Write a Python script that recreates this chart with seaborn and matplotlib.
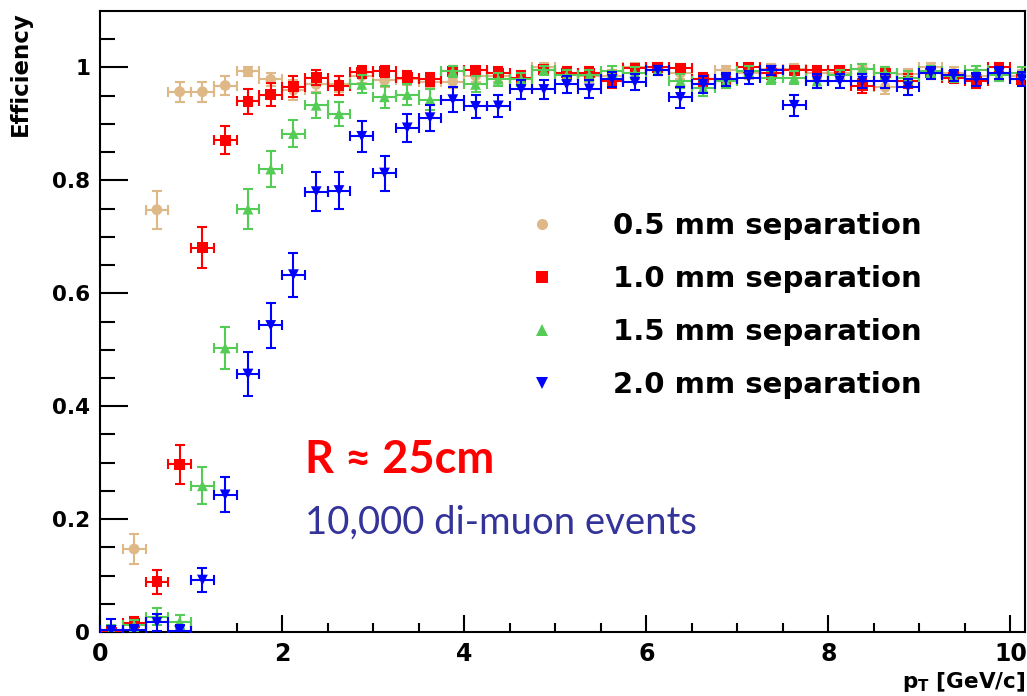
import numpy as np
import pandas as pd
import matplotlib
matplotlib.use("Agg")
import matplotlib.pyplot as plt
from matplotlib.lines import Line2D
import seaborn as sns

# ---------------- data ----------------
bin_half_width = 0.125
pt = [0.125, 0.375, 0.625, 0.875, 1.125, 1.375, 1.625, 1.875, 2.125, 2.375,
      2.625, 2.875, 3.125, 3.375, 3.625, 3.875, 4.125, 4.375, 4.625, 4.875,
      5.125, 5.375, 5.625, 5.875, 6.125, 6.375, 6.625, 6.875, 7.125, 7.375,
      7.625, 7.875, 8.125, 8.375, 8.625, 8.875, 9.125, 9.375, 9.625, 9.875,
      10.125]

eff_05 = [0.000, 0.147, 0.748, 0.957, 0.957, 0.968, 0.993, 0.979, 0.960, 0.970,
          0.970, 0.985, 0.977, 0.980, 0.975, 0.975, 0.985, 0.985, 0.980, 1.000,
          0.990, 0.985, 0.985, 1.000, 0.995, 0.990, 0.980, 0.995, 0.990, 0.998,
          0.998, 0.990, 0.990, 0.998, 0.965, 0.988, 1.000, 0.990, 0.985, 0.990,
          0.985]
err_05 = [0.010, 0.027, 0.034, 0.018, 0.018, 0.016, 0.008, 0.012, 0.018, 0.014,
          0.014, 0.012, 0.012, 0.011, 0.011, 0.011, 0.010, 0.010, 0.010, 0.008,
          0.010, 0.010, 0.010, 0.008, 0.008, 0.010, 0.010, 0.008, 0.010, 0.008,
          0.008, 0.010, 0.010, 0.008, 0.012, 0.010, 0.008, 0.010, 0.010, 0.010,
          0.010]

eff_10 = [0.000, 0.016, 0.089, 0.297, 0.681, 0.871, 0.940, 0.952, 0.966, 0.982,
          0.968, 0.992, 0.993, 0.982, 0.979, 0.993, 0.995, 0.990, 0.982, 0.996,
          0.990, 0.990, 0.976, 0.999, 1.000, 0.999, 0.979, 0.976, 1.000, 0.990,
          0.995, 0.995, 0.995, 0.967, 0.990, 0.976, 0.990, 0.982, 0.976, 1.000,
          0.979]
err_10 = [0.010, 0.010, 0.021, 0.035, 0.037, 0.025, 0.022, 0.020, 0.018, 0.013,
          0.016, 0.010, 0.010, 0.012, 0.012, 0.010, 0.008, 0.010, 0.012, 0.008,
          0.010, 0.010, 0.012, 0.008, 0.008, 0.008, 0.012, 0.012, 0.008, 0.010,
          0.008, 0.008, 0.008, 0.013, 0.010, 0.012, 0.010, 0.010, 0.012, 0.008,
          0.010]

eff_15 = [0.003, 0.012, 0.027, 0.018, 0.259, 0.503, 0.749, 0.820, 0.883, 0.933,
          0.918, 0.970, 0.948, 0.952, 0.943, 0.993, 0.970, 0.979, 0.979, 0.995,
          0.986, 0.986, 0.993, 0.990, 0.995, 0.976, 0.964, 0.976, 0.993, 0.982,
          0.982, 0.976, 0.986, 0.998, 0.990, 0.982, 0.993, 0.985, 0.995, 0.986,
          0.990]
err_15 = [0.010, 0.010, 0.015, 0.012, 0.033, 0.037, 0.035, 0.032, 0.024, 0.022,
          0.021, 0.016, 0.019, 0.018, 0.018, 0.010, 0.014, 0.012, 0.012, 0.008,
          0.010, 0.010, 0.010, 0.010, 0.008, 0.012, 0.014, 0.012, 0.010, 0.012,
          0.012, 0.012, 0.010, 0.008, 0.010, 0.012, 0.010, 0.010, 0.008, 0.010,
          0.010]

eff_20 = [0.003, 0.003, 0.017, 0.002, 0.092, 0.243, 0.457, 0.543, 0.633, 0.780,
          0.782, 0.878, 0.813, 0.893, 0.911, 0.943, 0.931, 0.932, 0.961, 0.961,
          0.970, 0.962, 0.979, 0.974, 0.995, 0.947, 0.970, 0.979, 0.982, 0.995,
          0.933, 0.976, 0.976, 0.976, 0.976, 0.966, 0.990, 0.986, 0.979, 0.990,
          0.980]
err_20 = [0.020, 0.010, 0.015, 0.010, 0.022, 0.031, 0.039, 0.040, 0.039, 0.034,
          0.033, 0.027, 0.031, 0.025, 0.023, 0.022, 0.021, 0.020, 0.016, 0.016,
          0.015, 0.016, 0.013, 0.014, 0.008, 0.019, 0.015, 0.012, 0.012, 0.008,
          0.019, 0.012, 0.012, 0.012, 0.012, 0.014, 0.010, 0.010, 0.012, 0.010,
          0.012]

labels = ["0.5 mm separation", "1.0 mm separation",
          "1.5 mm separation", "2.0 mm separation"]
colors = ["#DEB887", "#FF0000", "#55CC55", "#0000FF"]
markers = ["o", "s", "^", "v"]
yticks = [0, 0.2, 0.4, 0.6, 0.8, 1.0]
ytick_labels = ["0", "0.2", "0.4", "0.6", "0.8", "1"]
xticks = [0, 2, 4, 6, 8, 10]
xtick_labels = ["0", "2", "4", "6", "8", "10"]

series = [eff_05, eff_10, eff_15, eff_20]
errors = [err_05, err_10, err_15, err_20]

# ---------------- plot ----------------
sns.set_theme(style="ticks")
plt.rcParams["font.family"] = ["DejaVu Sans"]
plt.rcParams["mathtext.default"] = "regular"
plt.rcParams["text.color"] = "black"
plt.rcParams["axes.labelcolor"] = "black"
plt.rcParams["xtick.color"] = "black"
plt.rcParams["ytick.color"] = "black"

fig = plt.figure(figsize=(10.27, 6.96), dpi=100)
ax = fig.add_axes([100 / 1027, 1 - 632 / 696, 925 / 1027, 621 / 696])

for i, (vals, errs) in enumerate(zip(series, errors)):
    ax.errorbar(pt, vals, xerr=bin_half_width, yerr=errs, fmt="none",
                ecolor=colors[i], elinewidth=1.5, capsize=3.5, capthick=1.5,
                zorder=2 + i)
    sns.scatterplot(x=pt, y=vals, marker=markers[i], color=colors[i],
                    s=60, edgecolor="none", linewidth=0, ax=ax,
                    zorder=2.5 + i, legend=False)

ax.set_xlim(0, 10.16)
ax.set_ylim(0, 1.1)
ax.set_xticks(xticks)
ax.set_xticklabels(xtick_labels)
ax.set_yticks(yticks)
ax.set_yticklabels(ytick_labels)
ax.set_xticks(np.arange(0, 10.2, 0.5), minor=True)
ax.set_yticks(np.arange(0, 1.1, 0.05), minor=True)

ax.tick_params(axis="both", which="both", direction="in", width=1.5,
               colors="black", labelcolor="black", top=False, right=False)
ax.tick_params(axis="y", which="major", length=20, pad=7)
ax.tick_params(axis="y", which="minor", length=11)
ax.tick_params(axis="x", which="major", length=12, pad=7)
ax.tick_params(axis="x", which="minor", length=6.5)
for lab in ax.get_xticklabels():
    lab.set_fontweight("bold")
    lab.set_fontsize(17)
for lab in ax.get_yticklabels():
    lab.set_fontweight("bold")
    lab.set_fontsize(15.5)

for sp in ax.spines.values():
    sp.set_visible(True)
    sp.set_color("black")
    sp.set_linewidth(1.5)

ax.set_ylabel("Efficiency", fontsize=16.5, fontweight="bold", loc="top",
              color="black")
ax.yaxis.set_label_coords(-0.0735, 1.0)
ax.set_xlabel("p$_T$ [GeV/c]", fontsize=15.5, fontweight="bold", loc="right",
              color="black")
ax.xaxis.set_label_coords(1.0, -0.061)

handles = [Line2D([], [], marker=markers[i], color=colors[i], linestyle="",
                  markersize=8, markeredgewidth=0) for i in range(4)]
leg = ax.legend(handles, labels, loc="upper left",
                bbox_to_anchor=(0.463, 0.676), frameon=False,
                borderpad=0, borderaxespad=0, handlelength=0.95,
                handletextpad=1.95, labelspacing=0.86,
                prop={"family": "DejaVu Sans", "weight": "bold", "size": 21})
for t in leg.get_texts():
    t.set_color("black")

ax.text(0.2216, 0.256, "R \u2248 25cm", transform=ax.transAxes,
        color="#FF0000", fontsize=32.5, fontweight="bold", family="Lato",
        va="baseline", ha="left")
ax.text(0.2216, 0.159, "10,000 di-muon events", transform=ax.transAxes,
        color="#333399", fontsize=27.5, family="Lato", va="baseline", ha="left")

fig.savefig("out.png", dpi=100, facecolor="white")
